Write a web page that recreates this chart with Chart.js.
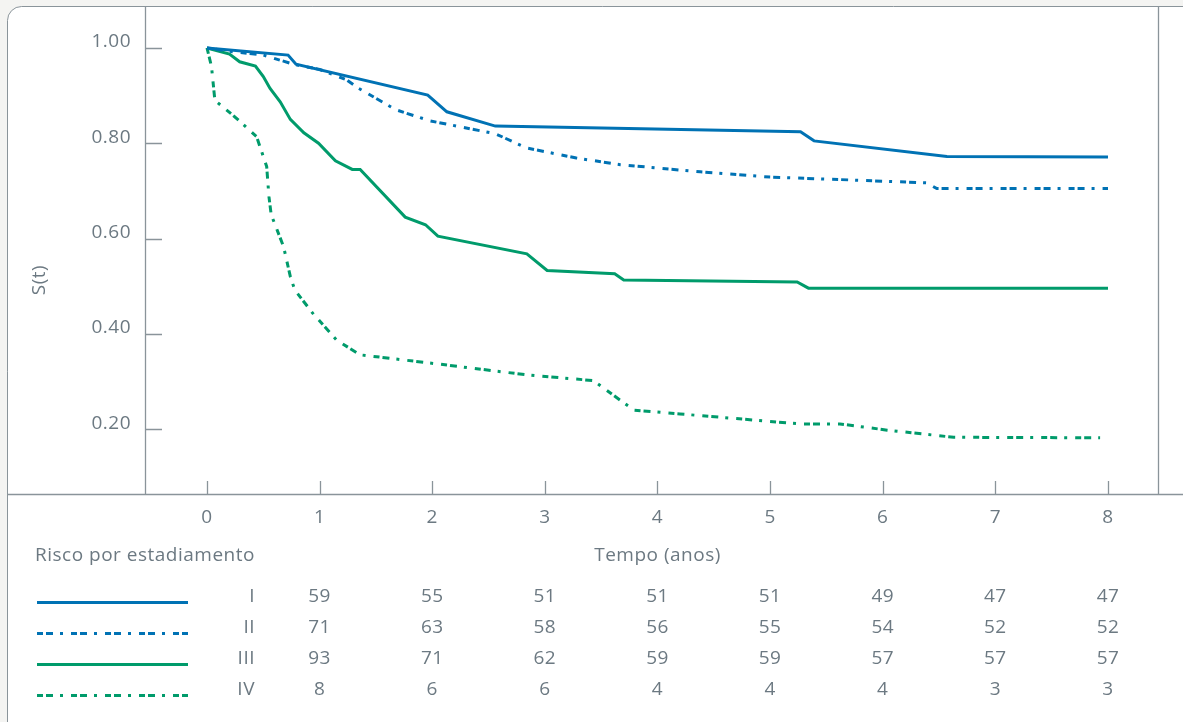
<!DOCTYPE html>
<html>
<head>
<meta charset="utf-8">
<script src="https://cdn.jsdelivr.net/npm/chart.js@4"></script>
<style>
  body { margin: 0; background: #f4f4f2; }
  #wrap { width: 1183px; height: 722px; }
</style>
</head>
<body>
<div id="wrap"><canvas id="myChart" width="1183" height="722"></canvas></div>
<script>
// survival curves (time in years, S(t))
const tI   = [0, 0.72, 0.79, 1.96, 2.13, 2.56, 5.27, 5.39, 6.57, 8.0];
const sI   = [1.0, 0.985, 0.966, 0.901, 0.866, 0.836, 0.824, 0.805, 0.772, 0.771];

const tII  = [0, 0.2, 0.5, 0.78, 1.0, 1.24, 1.34, 1.68, 1.98, 2.56, 2.84, 3.28, 3.67, 4.38, 5.0, 5.71, 6.39, 6.48, 8.0];
const sII  = [1.0, 0.993, 0.985, 0.965, 0.955, 0.933, 0.916, 0.87, 0.847, 0.82, 0.79, 0.769, 0.755, 0.74, 0.729, 0.723, 0.717, 0.705, 0.705];

const tIII = [0, 0.2, 0.29, 0.43, 0.5, 0.56, 0.65, 0.74, 0.86, 0.99, 1.14, 1.29, 1.36, 1.76, 1.94, 2.05, 2.84, 3.02, 3.62, 3.70, 5.24, 5.34, 8.0];
const sIII = [1.0, 0.987, 0.971, 0.962, 0.94, 0.915, 0.887, 0.85, 0.822, 0.80, 0.763, 0.745, 0.745, 0.645, 0.629, 0.605, 0.568, 0.533, 0.526, 0.513, 0.509, 0.496, 0.496];

const tIV  = [0, 0.04, 0.07, 0.23, 0.44, 0.53, 0.55, 0.57, 0.68, 0.74, 0.78, 0.94, 1.15, 1.36, 2.01, 2.84, 3.43, 3.79, 4.2, 5.27, 5.62, 6.04, 6.63, 7.93];
const sIV  = [1.0, 0.961, 0.89, 0.859, 0.814, 0.751, 0.688, 0.65, 0.583, 0.52, 0.492, 0.443, 0.387, 0.356, 0.338, 0.314, 0.302, 0.24, 0.232, 0.211, 0.211, 0.198, 0.183, 0.182];

// axis ticks
const xTicks = [0, 1, 2, 3, 4, 5, 6, 7, 8];
const yTicks = [0.2, 0.4, 0.6, 0.8, 1.0];

// numbers at risk
const stages    = ['I', 'II', 'III', 'IV'];
const riskTimes = [1, 2, 3, 4, 5, 6, 7, 8];
const riskI   = [59, 55, 51, 51, 51, 49, 47, 47];
const riskII  = [71, 63, 58, 56, 55, 54, 52, 52];
const riskIII = [93, 71, 62, 59, 59, 57, 57, 57];
const riskIV  = [8, 6, 6, 4, 4, 4, 3, 3];

const BLUE = '#0072b4';
const GREEN = '#009b6b';
const GREY = '#8a949a';
const TEXT = '#6c7982';
const FONT = '"Open Sans", sans-serif';
const SIZE = 19;
const dashDot = [6, 3, 7, 7, 3, 8];

function pts(t, s) {
    return t.map((x, i) => ({ x: x, y: s[i] }));
}

const riskRows = [riskI, riskII, riskIII, riskIV];

const frame = {
    id: 'frame',
    beforeDraw(chart) {
        const c = chart.ctx;
        const W = chart.width, H = chart.height;
        c.save();
        c.fillStyle = '#f4f4f2';
        c.fillRect(0, 0, W, H);
        // white card
        c.beginPath();
        c.roundRect(7.5, 6.5, W + 20, H + 20, 14);
        c.fillStyle = '#ffffff';
        c.fill();
        c.strokeStyle = GREY;
        c.lineWidth = 1;
        c.stroke();
        c.restore();
        // the source font is a bit wider, loosen all text slightly
        c.letterSpacing = '0.5px';
    },
    beforeDatasetsDraw(chart) {
        const c = chart.ctx;
        const a = chart.chartArea;
        const xs = chart.scales.x, ys = chart.scales.y;
        c.save();
        c.strokeStyle = GREY;
        c.lineWidth = 1.3;
        c.beginPath();
        c.moveTo(a.left + 0.5, 6.5);
        c.lineTo(a.left + 0.5, a.bottom);
        c.moveTo(a.right + 0.5, 6.5);
        c.lineTo(a.right + 0.5, a.bottom);
        c.moveTo(7.5, a.bottom + 0.5);
        c.lineTo(chart.width, a.bottom + 0.5);
        xTicks.forEach(v => {
            const px = Math.round(xs.getPixelForValue(v)) + 0.5;
            c.moveTo(px, a.bottom);
            c.lineTo(px, a.bottom - 13);
        });
        yTicks.forEach(v => {
            const py = Math.round(ys.getPixelForValue(v)) + 0.5;
            c.moveTo(a.left, py);
            c.lineTo(a.left + 17, py);
        });
        c.stroke();
        c.restore();
    },
    afterDraw(chart) {
        const c = chart.ctx;
        const xs = chart.scales.x;
        c.save();
        c.fillStyle = TEXT;
        c.font = SIZE + 'px ' + FONT;
        c.letterSpacing = '0.5px';
        c.textBaseline = 'middle';

        // y axis title
        c.save();
        c.translate(40, 280);
        c.rotate(-Math.PI / 2);
        c.textAlign = 'center';
        c.fillText('S(t)', 0, 0);
        c.restore();

        c.textAlign = 'left';
        c.fillText('Risco por estadiamento', 35, 556);
        c.textAlign = 'center';
        c.fillText('Tempo (anos)', xs.getPixelForValue(4), 556);

        const rowY = [597, 628, 659, 690];
        chart.data.datasets.forEach((ds, i) => {
            const y = rowY[i];
            // legend sample line
            c.save();
            c.strokeStyle = ds.borderColor;
            c.lineWidth = 3;
            c.setLineDash(ds.borderDash || []);
            c.beginPath();
            c.moveTo(37, y + 5.5);
            c.lineTo(188, y + 5.5);
            c.stroke();
            c.restore();

            c.textAlign = 'right';
            c.fillText(stages[i], 255, y);
            c.textAlign = 'center';
            riskRows[i].forEach((n, j) => {
                c.fillText(String(n), xs.getPixelForValue(riskTimes[j]), y);
            });
        });
        c.restore();
    }
};

new Chart(document.getElementById('myChart'), {
    type: 'line',
    data: {
        datasets: [
            { label: 'I', data: pts(tI, sI), borderColor: BLUE },
            { label: 'II', data: pts(tII, sII), borderColor: BLUE, borderDash: dashDot },
            { label: 'III', data: pts(tIII, sIII), borderColor: GREEN },
            { label: 'IV', data: pts(tIV, sIV), borderColor: GREEN, borderDash: dashDot }
        ]
    },
    options: {
        responsive: false,
        animation: false,
        devicePixelRatio: 1,
        layout: { padding: { left: 0, top: 6, right: 25, bottom: 0 } },
        elements: {
            line: { borderWidth: 3, tension: 0, fill: false, borderCapStyle: 'butt' },
            point: { radius: 0 }
        },
        plugins: {
            legend: { display: false },
            tooltip: { enabled: false }
        },
        scales: {
            x: {
                type: 'linear',
                min: -0.5505,
                max: 8.444,
                afterBuildTicks: s => { s.ticks = xTicks.map(v => ({ value: v })); },
                afterFit: s => { s.height = 228; s.paddingLeft = 0; s.paddingRight = 0; },
                grid: { display: false, drawTicks: false },
                border: { display: false },
                ticks: {
                    color: TEXT,
                    padding: 12,
                    maxRotation: 0,
                    font: { family: FONT, size: SIZE },
                    callback: v => String(v)
                }
            },
            y: {
                min: 0.064,
                max: 1.088,
                afterBuildTicks: s => { s.ticks = yTicks.map(v => ({ value: v })); },
                afterFit: s => { s.width = 145; s.paddingTop = 0; s.paddingBottom = 0; },
                grid: { display: false, drawTicks: false },
                border: { display: false },
                ticks: {
                    color: TEXT,
                    padding: 14,
                    labelOffset: -6,
                    font: { family: FONT, size: SIZE },
                    callback: v => v.toFixed(2)
                }
            }
        }
    },
    plugins: [frame]
});
</script>
</body>
</html>
